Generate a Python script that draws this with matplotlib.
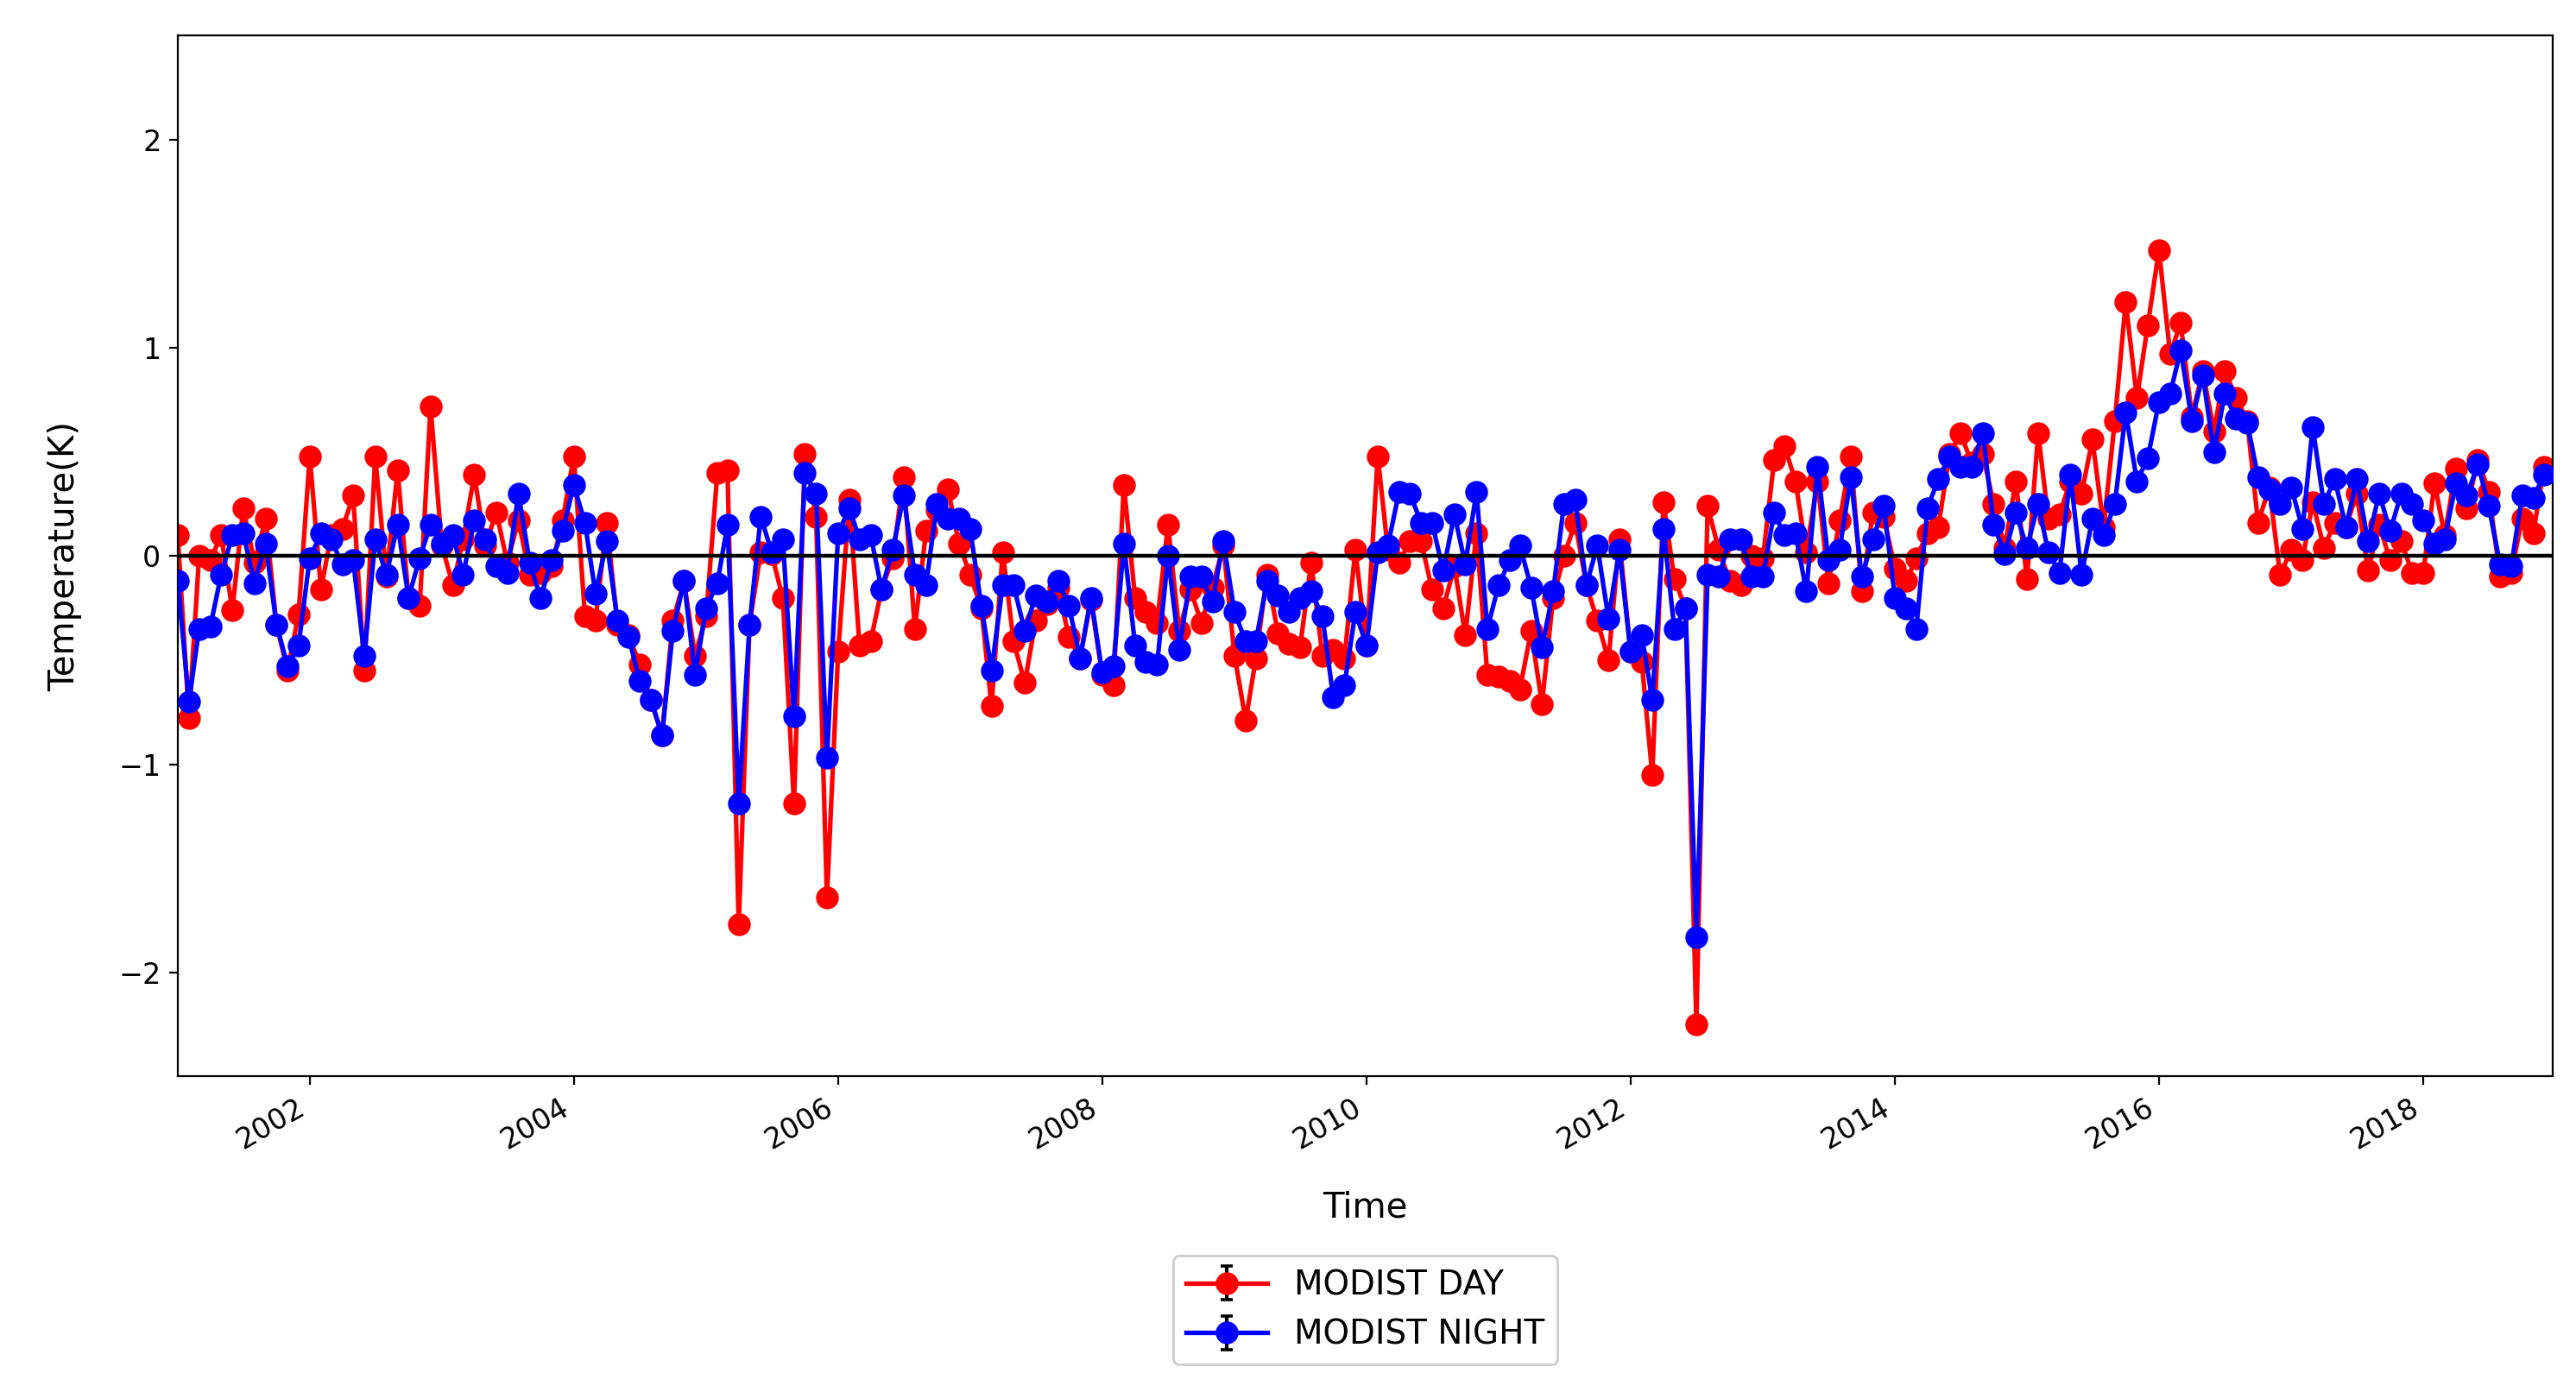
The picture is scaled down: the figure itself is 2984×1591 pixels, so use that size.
import numpy as np
import pandas as pd
import matplotlib
matplotlib.use('Agg')
import matplotlib.pyplot as plt
import matplotlib.dates as mdates

# ── monthly anomalies, Jan 2001 .. Dec 2018 ──
dates = pd.date_range('2001-01-01', periods=216, freq='MS')

day = [
    0.10, -0.78, 0.00, -0.02, 0.10, -0.26, 0.23, -0.03, 0.18, -0.33, -0.55, -0.28,   # 2001
    0.48, -0.16, 0.10, 0.13, 0.29, -0.55, 0.48, -0.10, 0.41, -0.20, -0.24, 0.72,     # 2002
    0.05, -0.14, 0.08, 0.39, 0.05, 0.21, -0.03, 0.17, -0.09, -0.08, -0.05, 0.17,     # 2003
    0.48, -0.29, -0.31, 0.16, -0.33, -0.38, -0.52, -0.69, -0.86, -0.31, -0.12, -0.48,  # 2004
    -0.29, 0.40, 0.41, -1.77, -0.33, 0.02, 0.01, -0.20, -1.19, 0.49, 0.19, -1.64,    # 2005
    -0.46, 0.27, -0.43, -0.41, -0.16, -0.01, 0.38, -0.35, 0.12, 0.22, 0.32, 0.06,    # 2006
    -0.09, -0.25, -0.72, 0.02, -0.41, -0.61, -0.31, -0.23, -0.15, -0.39, -0.49, -0.21,  # 2007
    -0.57, -0.62, 0.34, -0.20, -0.27, -0.32, 0.15, -0.36, -0.16, -0.32, -0.15, 0.05,  # 2008
    -0.48, -0.79, -0.49, -0.09, -0.37, -0.42, -0.44, -0.03, -0.48, -0.45, -0.49, 0.03,  # 2009
    -0.43, 0.48, 0.03, -0.03, 0.07, 0.07, -0.16, -0.25, -0.05, -0.38, 0.11, -0.57,   # 2010
    -0.58, -0.60, -0.64, -0.36, -0.71, -0.20, 0.00, 0.16, -0.14, -0.31, -0.50, 0.08,  # 2011
    -0.46, -0.51, -1.05, 0.26, -0.11, -0.25, -2.25, 0.24, 0.03, -0.12, -0.14, 0.00,  # 2012
    -0.01, 0.46, 0.53, 0.36, 0.02, 0.36, -0.13, 0.17, 0.48, -0.17, 0.21, 0.19,       # 2013
    -0.06, -0.12, -0.01, 0.11, 0.14, 0.49, 0.59, 0.45, 0.49, 0.25, 0.04, 0.36,       # 2014
    -0.11, 0.59, 0.18, 0.20, 0.36, 0.30, 0.56, 0.14, 0.65, 1.22, 0.76, 1.11,         # 2015
    1.47, 0.97, 1.12, 0.67, 0.89, 0.60, 0.89, 0.76, 0.65, 0.16, 0.33, -0.09,         # 2016
    0.03, -0.02, 0.26, 0.04, 0.16, 0.14, 0.30, -0.07, 0.15, -0.02, 0.07, -0.08,      # 2017
    -0.08, 0.35, 0.10, 0.42, 0.23, 0.46, 0.31, -0.10, -0.08, 0.18, 0.11, 0.43,       # 2018
]

night = [
    -0.12, -0.70, -0.35, -0.34, -0.09, 0.10, 0.11, -0.13, 0.06, -0.33, -0.53, -0.43,  # 2001
    -0.01, 0.11, 0.08, -0.04, -0.02, -0.48, 0.08, -0.09, 0.15, -0.20, -0.01, 0.15,    # 2002
    0.06, 0.10, -0.09, 0.17, 0.08, -0.05, -0.08, 0.30, -0.03, -0.20, -0.02, 0.12,     # 2003
    0.34, 0.16, -0.18, 0.07, -0.31, -0.39, -0.60, -0.69, -0.86, -0.36, -0.12, -0.57,  # 2004
    -0.25, -0.13, 0.15, -1.19, -0.33, 0.19, 0.02, 0.08, -0.77, 0.40, 0.30, -0.97,     # 2005
    0.11, 0.23, 0.08, 0.10, -0.16, 0.03, 0.29, -0.09, -0.14, 0.25, 0.18, 0.18,        # 2006
    0.13, -0.24, -0.55, -0.14, -0.14, -0.36, -0.19, -0.22, -0.12, -0.24, -0.49, -0.20,  # 2007
    -0.56, -0.53, 0.06, -0.43, -0.51, -0.52, 0.00, -0.45, -0.10, -0.10, -0.22, 0.07,  # 2008
    -0.27, -0.41, -0.41, -0.12, -0.19, -0.27, -0.20, -0.17, -0.29, -0.68, -0.62, -0.27,  # 2009
    -0.43, 0.02, 0.05, 0.31, 0.30, 0.16, 0.16, -0.07, 0.20, -0.04, 0.31, -0.35,       # 2010
    -0.14, -0.02, 0.05, -0.15, -0.44, -0.17, 0.25, 0.27, -0.14, 0.05, -0.30, 0.03,    # 2011
    -0.46, -0.38, -0.69, 0.13, -0.35, -0.25, -1.83, -0.09, -0.10, 0.08, 0.08, -0.10,  # 2012
    -0.10, 0.21, 0.10, 0.11, -0.17, 0.43, -0.02, 0.03, 0.38, -0.10, 0.08, 0.24,       # 2013
    -0.20, -0.25, -0.35, 0.23, 0.37, 0.48, 0.43, 0.43, 0.59, 0.15, 0.01, 0.21,        # 2014
    0.04, 0.25, 0.02, -0.08, 0.39, -0.09, 0.18, 0.10, 0.25, 0.69, 0.36, 0.47,         # 2015
    0.74, 0.78, 0.99, 0.65, 0.87, 0.50, 0.78, 0.66, 0.64, 0.38, 0.32, 0.25,           # 2016
    0.33, 0.13, 0.62, 0.25, 0.37, 0.14, 0.37, 0.07, 0.30, 0.12, 0.30, 0.25,           # 2017
    0.17, 0.06, 0.08, 0.35, 0.29, 0.44, 0.24, -0.04, -0.05, 0.29, 0.28, 0.39,         # 2018
]

err_day = 0.032
err_night = 0.032

assert len(day) == len(dates) and len(night) == len(dates)

# ─────────────────────────────────────────────────────────────────
# Plot
# ─────────────────────────────────────────────────────────────────
plt.rcParams['font.family'] = 'DejaVu Sans'
plt.rcParams['font.size'] = 12

fig = plt.figure(figsize=(14.92, 7.955), dpi=200)
ax = fig.add_axes([0.069, 0.216, 0.922, 0.758])

style = dict(fmt='-o', ecolor='black', elinewidth=1.5, capsize=2.5, capthick=1.3,
             markersize=8.5, linewidth=1.9)
ax.errorbar(dates, day, yerr=err_day, color='red', label='MODIST DAY',
            zorder=2, **style)
ax.errorbar(dates, night, yerr=err_night, color='blue', label='MODIST NIGHT',
            zorder=2.5, **style)
ax.axhline(0, color='black', linewidth=1.6, zorder=3)

ax.set_ylim(-2.5, 2.5)
ax.set_yticks([-2, -1, 0, 1, 2])
ax.set_xlim(pd.Timestamp('2001-01-01'), pd.Timestamp('2018-12-25'))
ax.xaxis.set_major_locator(mdates.YearLocator(2))
ax.xaxis.set_major_formatter(mdates.DateFormatter('%Y'))
for lbl in ax.get_xticklabels():
    lbl.set_rotation(30)
    lbl.set_ha('right')

ax.set_xlabel('Time', fontsize=14.5, labelpad=15)
ax.set_ylabel('Temperature(K)', fontsize=14.5, labelpad=15)

ax.legend(loc='upper center', bbox_to_anchor=(0.5, -0.172), ncol=1,
          fontsize=14, framealpha=1, borderaxespad=0, handlelength=2.4,
          labelspacing=0.5, borderpad=0.4)

fig.savefig('out.png', dpi=200)
